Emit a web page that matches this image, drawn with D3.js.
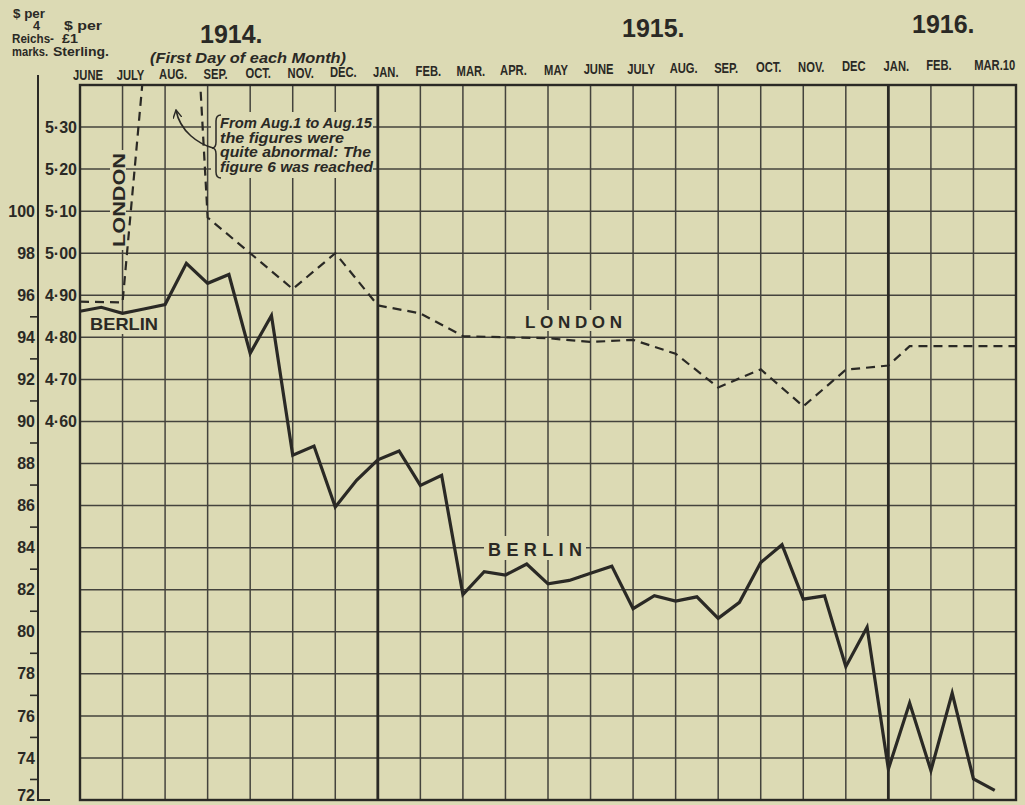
<!DOCTYPE html>
<html>
<head>
<meta charset="utf-8">
<script src="https://cdn.jsdelivr.net/npm/d3@7"></script>
<style>
  html, body { margin: 0; padding: 0; background: #dcdab4; }
  svg { display: block; }
  text { font-family: "Liberation Sans", Arial, sans-serif; fill: #2a2925; }
</style>
</head>
<body>
<svg id="chart" width="1025" height="805"></svg>
<script>
// Month columns, first day of each month, June 1914 to March 1916
const monthLabels = ["JUNE", "JULY", "AUG.", "SEP.", "OCT.", "NOV.", "DEC.",
  "JAN.", "FEB.", "MAR.", "APR.", "MAY", "JUNE", "JULY", "AUG.", "SEP.", "OCT.",
  "NOV.", "DEC", "JAN.", "FEB.", "MAR.10"];

// Berlin: dollars per 4 Reichsmarks, twice a month (1st and 15th)
const berlinValues = [95.24, 95.43, 95.14, 95.35, 95.56, 97.52, 96.57, 96.99,
  93.24, 95.04, 88.39, 88.83, 85.93, 87.2, 88.18, 88.6, 86.96, 87.44,
  81.77, 82.86, 82.70, 83.22, 82.28, 82.44, 82.78, 83.12, 81.10, 81.72,
  81.46, 81.66, 80.64, 81.40, 83.29, 84.14, 81.55, 81.71, 78.34, 80.22,
  73.47, 76.61, 73.40, 77.08, 73.00, 72.46];

// London: dollars per pound sterling (month position, value)
const londonMonths = [0, 1, 2, 2.5, 3, 4, 5, 6, 7, 8, 9, 10, 11, 12, 13, 14,
  15, 16, 17, 18, 19, 19.5, 20, 21, 22];
const londonValues = [4.885, 4.883, 6.00, 6.00, 5.085, 5.00, 4.915, 5.00,
  4.876, 4.857, 4.803, 4.80, 4.798, 4.789, 4.794, 4.761, 4.681, 4.724,
  4.636, 4.723, 4.733, 4.779, 4.779, 4.779, 4.779];

// Axis ticks
const berlinTicks = [72, 74, 76, 78, 80, 82, 84, 86, 88, 90, 92, 94, 96, 98, 100];
const berlinMinorTicks = [73, 75, 77, 79, 81, 83, 85, 87, 89, 91, 93, 95];
const londonTicks = [4.60, 4.70, 4.80, 4.90, 5.00, 5.10, 5.20, 5.30];
const gridValues = [74, 76, 78, 80, 82, 84, 86, 88, 90, 92, 94, 96, 98, 100, 102, 104];

const yearLabels = ["1914.", "1915.", "1916."];
const noteLines = ["From Aug.1 to Aug.15", "the figures were",
  "quite abnormal: The", "figure 6 was reached"];

const ink = "#2a2925";
const bg = "#dcdab4";
const plot = { left: 80, right: 1016, top: 85, bottom: 800 };

const svg = d3.select("#chart");
svg.append("rect").attr("width", 1025).attr("height", 805).attr("fill", bg);

const x = d3.scaleLinear().domain([0, 22]).range([plot.left, plot.right]);
const yB = d3.scaleLinear().domain([72, 106]).range([plot.bottom, plot.top]);
// $ per £ sharing the same vertical grid: 5.10 sits on 100, 0.10 per 2 units
const yL = d3.scaleLinear().domain([3.70, 5.40]).range([plot.bottom, plot.top]);

// ---- grid ----
const grid = svg.append("g");
grid.selectAll("line.h").data(gridValues).join("line")
  .attr("x1", plot.left).attr("x2", plot.right)
  .attr("y1", d => yB(d)).attr("y2", d => yB(d))
  .attr("stroke", "#44433d").attr("stroke-width", 1.5);
grid.selectAll("line.v").data(d3.range(1, 22)).join("line")
  .attr("x1", d => x(d)).attr("x2", d => x(d))
  .attr("y1", plot.top).attr("y2", plot.bottom)
  .attr("stroke", d => (d === 7 || d === 19) ? ink : "#44433d")
  .attr("stroke-width", d => (d === 7 || d === 19) ? 2.8 : 1.5);
grid.append("rect")
  .attr("x", plot.left).attr("y", plot.top)
  .attr("width", plot.right - plot.left).attr("height", plot.bottom - plot.top)
  .attr("fill", "none").attr("stroke", ink).attr("stroke-width", 2.4);

// ---- clear patches behind lettering inside the grid ----
const patches = [
  [211, 112, 162, 66],   // note
  [110, 150, 16, 100],   // vertical LONDON
  [87, 314, 74, 20],     // BERLIN (left)
  [484, 536, 102, 24],   // BERLIN (middle)
  [521, 310, 104, 21]    // LONDON (middle)
];
svg.append("g").selectAll("rect").data(patches).join("rect")
  .attr("x", d => d[0]).attr("y", d => d[1])
  .attr("width", d => d[2]).attr("height", d => d[3])
  .attr("fill", bg);

// ---- left axis: $ per 4 Reichsmarks ----
const axisX = 38;
svg.append("path")
  .attr("d", `M${axisX},75 L${axisX},${plot.bottom} L${axisX + 12},${plot.bottom}`)
  .attr("fill", "none").attr("stroke", ink).attr("stroke-width", 2);

const gB = svg.append("g").attr("transform", `translate(${axisX},0)`)
  .call(d3.axisLeft(yB).tickValues(berlinTicks).tickSize(0).tickPadding(3));
const gBm = svg.append("g").attr("transform", `translate(${axisX},0)`)
  .call(d3.axisLeft(yB).tickValues(berlinMinorTicks).tickSize(8).tickFormat(""));

// ---- second axis: $ per £1 sterling ----
const gL = svg.append("g").attr("transform", `translate(${plot.left},0)`)
  .call(d3.axisLeft(yL).tickValues(londonTicks).tickSize(0).tickPadding(3)
    .tickFormat(d => d3.format(".2f")(d).replace(".", "·")));

[gB, gBm, gL].forEach(g => {
  g.select(".domain").remove();
  g.selectAll("line").attr("stroke", ink).attr("stroke-width", 1.6);
  g.selectAll("text")
    .attr("fill", ink)
    .style("font-family", '"Liberation Sans", Arial, sans-serif')
    .style("font-size", "16px").style("font-weight", "bold");
});
// keep the lowest label inside the page
gB.selectAll(".tick").filter(d => d === 72).select("text").attr("dy", "0.05em");

// ---- series ----
const clip = svg.append("clipPath").attr("id", "plotClip");
clip.append("rect").attr("x", plot.left).attr("y", plot.top)
  .attr("width", plot.right - plot.left).attr("height", plot.bottom - plot.top);

const londonData = londonMonths.map((t, i) => ({ t, v: londonValues[i] }));
svg.append("path")
  .datum(londonData)
  .attr("clip-path", "url(#plotClip)")
  .attr("d", d3.line().x(d => x(d.t)).y(d => yL(d.v)))
  .attr("fill", "none").attr("stroke", ink)
  .attr("stroke-width", 2.2).attr("stroke-dasharray", "9,6");

const berlinData = berlinValues.map((v, i) => ({ t: i / 2, v }));
svg.append("path")
  .datum(berlinData)
  .attr("d", d3.line().x(d => x(d.t)).y(d => yB(d.v)))
  .attr("fill", "none").attr("stroke", ink)
  .attr("stroke-width", 3.2).attr("stroke-linejoin", "miter")
  .attr("stroke-miterlimit", 6);

// ---- series names ----
svg.append("text").attr("x", 90).attr("y", 330)
  .attr("textLength", 68).attr("lengthAdjust", "spacingAndGlyphs")
  .style("font-size", "17px").style("font-weight", "bold").text("BERLIN");
svg.append("text").attr("x", 488).attr("y", 556)
  .attr("textLength", 94).attr("lengthAdjust", "spacing")
  .style("font-size", "18px").style("font-weight", "bold").text("BERLIN");
svg.append("text").attr("x", 525).attr("y", 328)
  .attr("textLength", 97).attr("lengthAdjust", "spacing")
  .style("font-size", "17px").style("font-weight", "bold").text("LONDON");
svg.append("text")
  .attr("transform", "translate(125,200) rotate(-90)")
  .attr("text-anchor", "middle")
  .attr("textLength", 94).attr("lengthAdjust", "spacingAndGlyphs")
  .style("font-size", "16px").style("font-weight", "bold").text("LONDON");

// ---- note on the August 1914 panic ----
svg.append("defs").append("marker")
  .attr("id", "arrowHead").attr("viewBox", "0 0 10 10")
  .attr("refX", 9).attr("refY", 5)
  .attr("markerWidth", 9).attr("markerHeight", 9)
  .attr("markerUnits", "userSpaceOnUse").attr("orient", "auto")
  .append("path").attr("d", "M0,0 L9,5 L0,10")
  .attr("fill", "none").attr("stroke", ink).attr("stroke-width", 1.6);

svg.append("path")
  .attr("d", "M213,148 C199,144 180,132 176,110")
  .attr("fill", "none").attr("stroke", ink).attr("stroke-width", 1.6)
  .attr("marker-end", "url(#arrowHead)");
svg.append("path")
  .attr("d", "M221,115 Q216,115 216,121 L216,142 Q216,148 212,148 Q216,148 216,154 L216,172 Q216,178 221,178")
  .attr("fill", "none").attr("stroke", ink).attr("stroke-width", 1.5);

const noteWidths = [152, 124, 151, 153];
svg.append("g").selectAll("text").data(noteLines).join("text")
  .attr("x", 220).attr("y", (d, i) => 128 + i * 14.5)
  .attr("textLength", (d, i) => noteWidths[i])
  .attr("lengthAdjust", "spacingAndGlyphs")
  .style("font-size", "14px").style("font-style", "italic")
  .style("font-weight", "bold")
  .text(d => d);

// ---- header ----
const monthG = svg.append("g");
monthG.selectAll("text").data(monthLabels).join("text")
  .attr("transform", (d, i) => {
    const cx = i === 21 ? (x(21) + x(22)) / 2 : x(i) + 8;
    const by = 80 - 10 * i / 21;
    return `translate(${cx},${by}) scale(0.8,1)`;
  })
  .attr("text-anchor", "middle")
  .style("font-size", "14px").style("font-weight", "bold")
  .text(d => d);

const yearPos = [[200, 43], [622, 37], [912, 33]];
svg.append("g").selectAll("text").data(yearLabels).join("text")
  .attr("x", (d, i) => yearPos[i][0]).attr("y", (d, i) => yearPos[i][1])
  .style("font-size", "25px").style("font-weight", "bold")
  .text(d => d);

svg.append("text").attr("x", 150).attr("y", 63)
  .attr("textLength", 196).attr("lengthAdjust", "spacingAndGlyphs")
  .style("font-size", "14px").style("font-style", "italic").style("font-weight", "bold")
  .text("(First Day of each Month)");

// unit captions over the two scales
const unitText = [
  ["$ per", 13, 18, 32],
  ["4", 33, 30, 7],
  ["Reichs-", 12, 43, 42],
  ["marks.", 12, 56, 36],
  ["$ per", 64, 30, 38],
  ["£1", 62, 43, 16],
  ["Sterling.", 53, 56, 56]
];
svg.append("g").selectAll("text").data(unitText).join("text")
  .attr("x", d => d[1]).attr("y", d => d[2])
  .attr("textLength", d => d[3]).attr("lengthAdjust", "spacingAndGlyphs")
  .style("font-size", "12px").style("font-weight", "bold")
  .text(d => d[0]);
</script>
</body>
</html>
